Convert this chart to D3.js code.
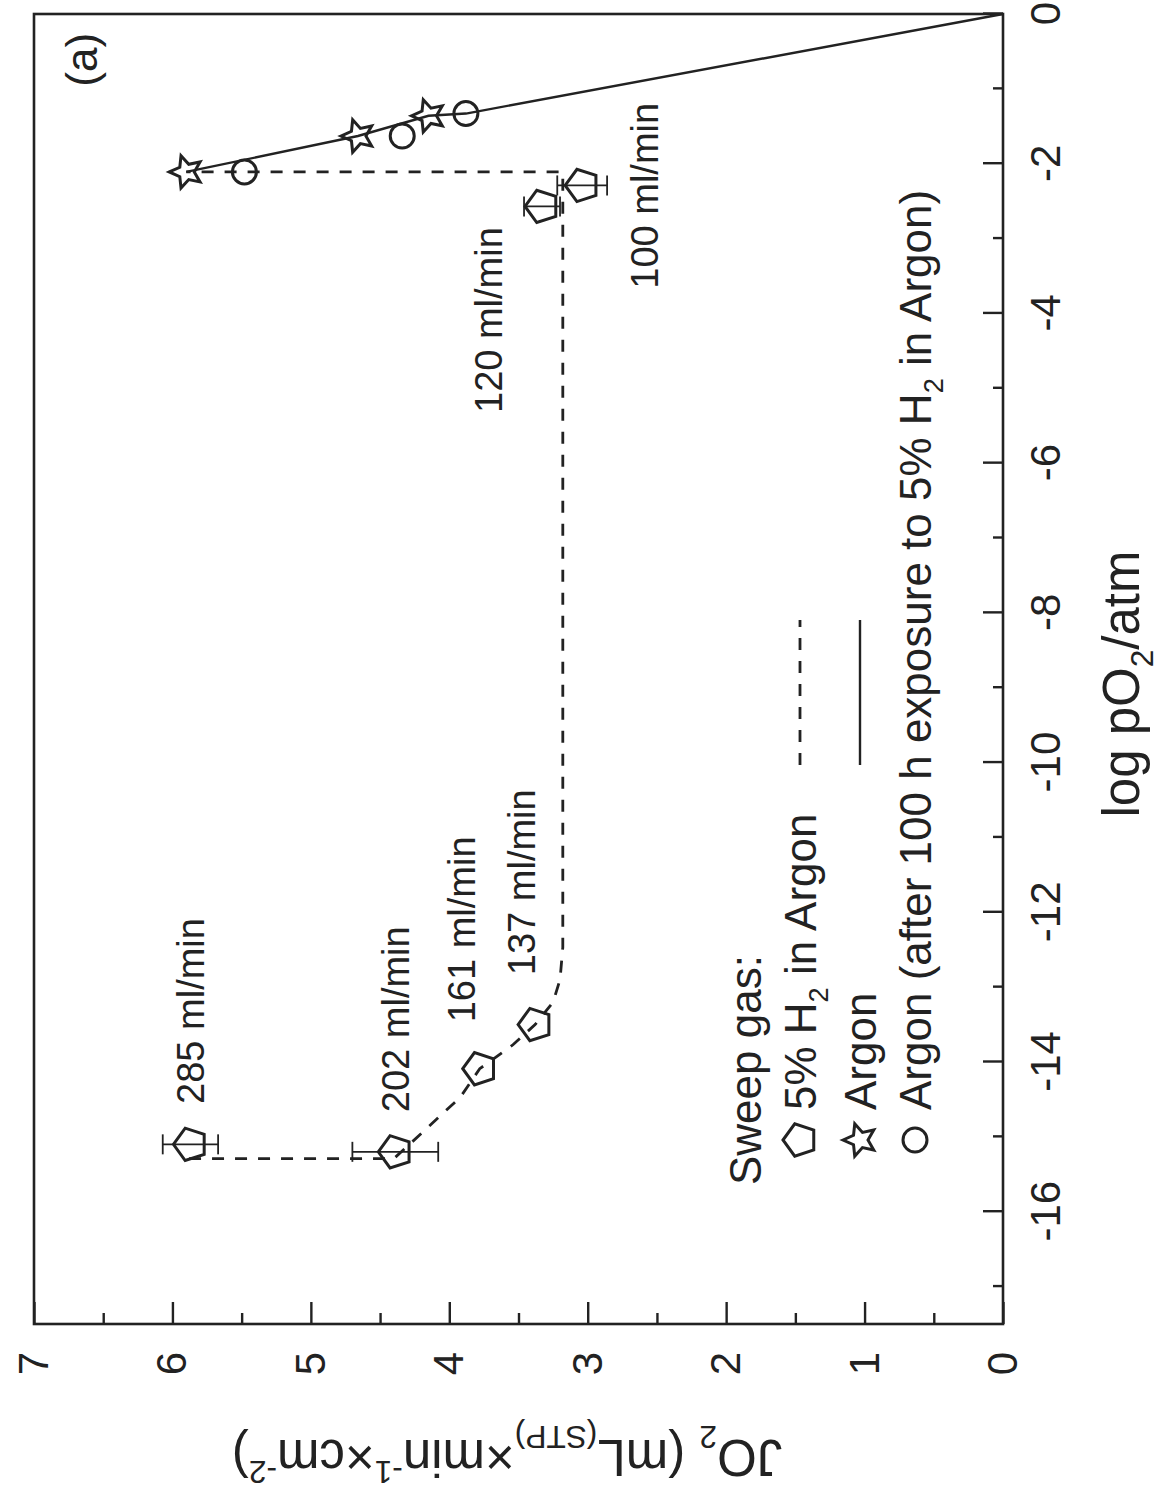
<!DOCTYPE html>
<html><head><meta charset="utf-8">
<script src="https://cdn.jsdelivr.net/npm/d3@7"></script>
<style>
body{margin:0;background:#fff}
svg{display:block}
text{font-family:"Liberation Sans",Arial,Helvetica,sans-serif;fill:#222}
</style>
</head><body>
<svg id="c" width="1167" height="1493"></svg>
<script>
// ---------------- data ----------------
const xTicks = [-16, -14, -12, -10, -8, -6, -4, -2, 0];
const xMinor = [-17, -15, -13, -11, -9, -7, -5, -3, -1];
const yTicks = [0, 1, 2, 3, 4, 5, 6, 7];
const yMinor = [0.5, 1.5, 2.5, 3.5, 4.5, 5.5, 6.5];

// sweep gas: 5% H2 in Argon (pentagons)
const h2Flow   = ["285 ml/min", "202 ml/min", "161 ml/min", "137 ml/min", "120 ml/min", "100 ml/min"];
const h2LogPO2 = [-15.10, -15.20, -14.09, -13.50, -2.57, -2.29];
const h2JO2    = [5.87, 4.39, 3.78, 3.38, 3.33, 3.04];
const h2Err    = [0.20, 0.31, 0, 0, 0.13, 0.18];

// sweep gas: Argon (stars)
const arLogPO2 = [-2.11, -1.63, -1.36];
const arJO2    = [5.90, 4.66, 4.15];

// sweep gas: Argon after 100 h exposure (circles)
const arAfterLogPO2 = [-2.11, -1.63, -1.33];
const arAfterJO2    = [5.48, 4.34, 3.88];

// solid guide line (Argon)
const solidLogPO2 = [-2.11, -1.63, -1.36, -1.33, 0];
const solidJO2    = [5.90, 4.66, 4.15, 3.88, 0];

// dashed guide line (5% H2 in Argon)
const dashLogPO2 = [-15.29, -15.29, -15.07, -14.47, -14.09, -13.77, -13.50, -13.20, -12.90, -12.47, -2.11, -2.11];
const dashJO2    = [5.88, 4.40, 4.27, 3.92, 3.78, 3.54, 3.38, 3.25, 3.20, 3.18, 3.18, 5.90];

// flow-rate label anchors (data units: label start logpO2, label centre JO2)
const annLogPO2 = [-14.56, -14.67, -13.47, -12.84, -5.33, -3.67];
const annJO2    = [5.87, 4.39, 3.91, 3.48, 3.72, 2.59];

const legendLabels = ["5% H|2| in Argon", "Argon", "Argon (after 100 h exposure to 5% H|2| in Argon)"];

// ---------------- layout ----------------
const W0 = 1493; // unrotated frame width (= page height)
const svg = d3.select("#c");
const g = svg.append("g").attr("transform", `translate(0,${W0}) rotate(-90)`);

const x = d3.scaleLinear().domain([-17.5, 0]).range([169, 1479]);
const y = d3.scaleLinear().domain([0, 7]).range([1003, 34]);
const INK = "#222";
const FT = 42, FTITLE = 51, FANN = 38, FLEG = 44;

// frame
g.append("rect")
  .attr("x", x(-17.5)).attr("y", y(7))
  .attr("width", x(0) - x(-17.5)).attr("height", y(0) - y(7))
  .attr("fill", "none").attr("stroke", INK).attr("stroke-width", 2.6);

function styleAxis(sel, fs) {
  sel.select(".domain").remove();
  sel.selectAll(".tick line").attr("stroke", INK).attr("stroke-width", 2.4);
  sel.selectAll("text").attr("fill", INK).attr("font-size", fs)
     .attr("font-family", '"Liberation Sans",Arial,sans-serif');
}

const gx = g.append("g").attr("transform", `translate(0,${y(0)})`)
  .call(d3.axisBottom(x).tickValues(xTicks).tickSizeInner(-20).tickSizeOuter(0)
        .tickPadding(27).tickFormat(d => String(d)));
styleAxis(gx, FT);
const gxm = g.append("g").attr("transform", `translate(0,${y(0)})`)
  .call(d3.axisBottom(x).tickValues(xMinor).tickSizeInner(-10).tickSizeOuter(0).tickFormat(""));
styleAxis(gxm, FT);

const gy = g.append("g").attr("transform", `translate(${x(-17.5)},0)`)
  .call(d3.axisLeft(y).tickValues(yTicks).tickSizeInner(-22).tickSizeOuter(0)
        .tickPadding(28).tickFormat(d => String(d)));
styleAxis(gy, FT);
const gym = g.append("g").attr("transform", `translate(${x(-17.5)},0)`)
  .call(d3.axisLeft(y).tickValues(yMinor).tickSizeInner(-11).tickSizeOuter(0).tickFormat(""));
styleAxis(gym, FT);

// rich text helper: parts [text, mode] mode: n | sub | sup
function rich(sel, parts, fs) {
  sel.attr("font-size", fs);
  let shift = 0;
  parts.forEach(([t, m]) => {
    const ts = sel.append("tspan").text(t);
    let target = 0, size = fs;
    if (m === "sub") { target = 0.28 * fs; size = 0.62 * fs; }
    if (m === "sup") { target = -0.42 * fs; size = 0.62 * fs; }
    ts.attr("font-size", size);
    if (target - shift !== 0) ts.attr("dy", target - shift);
    shift = target;
  });
}
function parseBar(str) {
  return str.split("|").map((s, i) => [s, i % 2 ? "sub" : "n"]).filter(p => p[0] !== "");
}

// axis titles
const xt = g.append("text").attr("x", 809).attr("y", 1139).attr("text-anchor", "middle");
rich(xt, [["log pO", "n"], ["2", "sub"], ["/atm", "n"]], FTITLE);

const yt = g.append("text").attr("transform", "translate(53,507) rotate(-90)").attr("text-anchor", "middle");
rich(yt, [["JO", "n"], ["2", "sub"], [" (mL", "n"], ["(STP)", "sub"], ["\u00d7min", "n"],
          ["-1", "sup"], ["\u00d7cm", "n"], ["-2", "sup"], [")", "n"]], FTITLE);

// guide lines
const line = d3.line().x(d => x(d[0])).y(d => y(d[1]));
g.append("path").datum(solidLogPO2.map((v, i) => [v, solidJO2[i]]))
  .attr("d", line).attr("fill", "none").attr("stroke", INK).attr("stroke-width", 2.4);
g.append("path").datum(dashLogPO2.map((v, i) => [v, dashJO2[i]]))
  .attr("d", line).attr("fill", "none").attr("stroke", INK).attr("stroke-width", 2.8)
  .attr("stroke-dasharray", "12,11");

// error bars
h2LogPO2.forEach((lp, i) => {
  const e = h2Err[i]; if (!e) return;
  const cx = x(lp), y1 = y(h2JO2[i] - e), y2 = y(h2JO2[i] + e);
  g.append("line").attr("x1", cx).attr("x2", cx).attr("y1", y1).attr("y2", y2)
    .attr("stroke", INK).attr("stroke-width", 1.8);
  [y1, y2].forEach(yy => g.append("line").attr("x1", cx - 10).attr("x2", cx + 10)
    .attr("y1", yy).attr("y2", yy).attr("stroke", INK).attr("stroke-width", 1.8));
});

// marker shapes
function pentagon(r) {
  const p = d3.range(5).map(i => { const a = -Math.PI / 2 + i * 2 * Math.PI / 5; return [r * Math.cos(a), r * Math.sin(a)]; });
  return "M" + p.map(q => q.join(",")).join("L") + "Z";
}
function star(R, r) {
  const p = d3.range(10).map(i => { const a = -Math.PI / 2 + i * Math.PI / 5; const rr = i % 2 ? r : R; return [rr * Math.cos(a), rr * Math.sin(a)]; });
  return "M" + p.map(q => q.join(",")).join("L") + "Z";
}
function drawPent(cx, cy) {
  g.append("path").attr("d", pentagon(17)).attr("transform", `translate(${cx},${cy})`)
    .attr("fill", "none").attr("stroke", INK).attr("stroke-width", 3);
}
function drawStar(cx, cy) {
  g.append("path").attr("d", star(17, 8)).attr("transform", `translate(${cx},${cy})`)
    .attr("fill", "none").attr("stroke", INK).attr("stroke-width", 3);
}
function drawCirc(cx, cy) {
  g.append("circle").attr("cx", cx).attr("cy", cy).attr("r", 12)
    .attr("fill", "none").attr("stroke", INK).attr("stroke-width", 3);
}

h2LogPO2.forEach((lp, i) => drawPent(x(lp), y(h2JO2[i])));
arLogPO2.forEach((lp, i) => drawStar(x(lp), y(arJO2[i])));
arAfterLogPO2.forEach((lp, i) => drawCirc(x(lp), y(arAfterJO2[i])));

// flow-rate labels
h2Flow.forEach((t, i) => {
  g.append("text").attr("x", x(annLogPO2[i])).attr("y", y(annJO2[i])).attr("dy", "0.36em")
    .attr("font-size", FANN).text(t);
});

// panel label
g.append("text").attr("x", x(-0.97)).attr("y", y(6.66)).attr("dy", "0.36em")
  .attr("font-size", FLEG).text("(a)");

// legend
const legX = 353, legTextX = 383;
const legRows = [800, 860, 915];
g.append("text").attr("x", 308).attr("y", 745 + 0.36 * FLEG).attr("font-size", FLEG).text("Sweep gas:");
drawPent(legX, legRows[0]);
drawStar(legX, legRows[1]);
drawCirc(legX, legRows[2]);
legendLabels.forEach((lab, i) => {
  const t = g.append("text").attr("x", legTextX).attr("y", legRows[i] + 0.36 * FLEG);
  rich(t, parseBar(lab), FLEG);
});
g.append("line").attr("x1", 728).attr("x2", 873).attr("y1", legRows[0]).attr("y2", legRows[0])
  .attr("stroke", INK).attr("stroke-width", 2.8).attr("stroke-dasharray", "12,11");
g.append("line").attr("x1", 728).attr("x2", 873).attr("y1", legRows[1]).attr("y2", legRows[1])
  .attr("stroke", INK).attr("stroke-width", 2.4);
</script>
</body></html>
